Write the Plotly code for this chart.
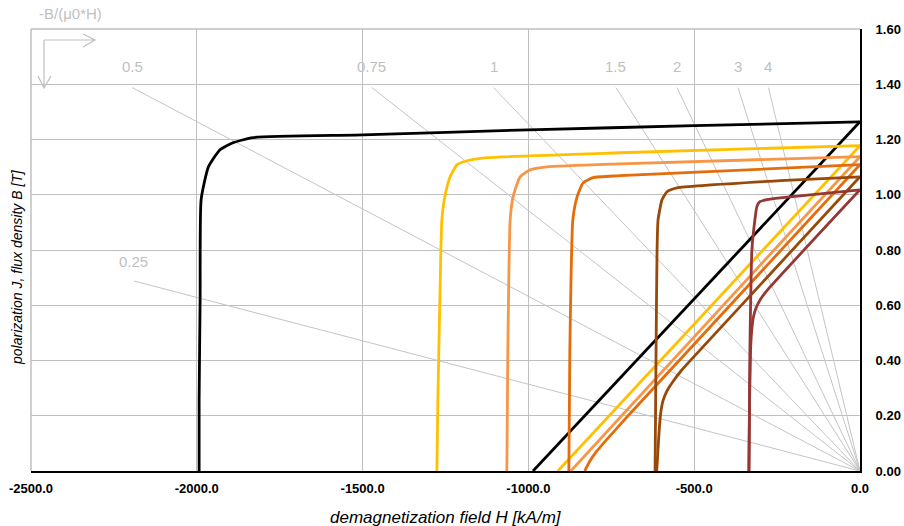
import plotly.graph_objects as go

# ---------------- data ----------------
x_ticks = [-2500, -2000, -1500, -1000, -500, 0]
x_tick_labels = ["-2500.0", "-2000.0", "-1500.0", "-1000.0", "-500.0", "0.0"]
y_ticks = [0, 0.2, 0.4, 0.6, 0.8, 1.0, 1.2, 1.4, 1.6]
y_tick_labels = ["0.00", "0.20", "0.40", "0.60", "0.80", "1.00", "1.20", "1.40", "1.60"]

# load lines -B/(mu0*H): start points (end point is the origin)
load_labels = ["0.25", "0.5", "0.75", "1", "1.5", "2", "3", "4"]
load_start_H = [-2190, -2195, -1472, -1105, -736, -552, -368, -276]
load_start_B = [0.688, 1.388, 1.388, 1.388, 1.388, 1.388, 1.388, 1.388]
load_label_B = [0.757, 1.464, 1.464, 1.464, 1.464, 1.464, 1.464, 1.464]

# J curves (polarization) and B curves (flux density), H in kA/m
black_J_H = [0, -500, -1000, -1500, -1830, -1891, -1930, -1965, -1987, -1990, -1993, -1993]
black_J = [1.264, 1.250, 1.235, 1.217, 1.207, 1.188, 1.163, 1.101, 0.982, 0.62, 0.257, 0]
black_B_H = [0, -986]
black_B = [1.264, 0]

yellow_J_H = [0, -724, -1125, -1185, -1215, -1236, -1252, -1261, -1267, -1273, -1276]
yellow_J = [1.178, 1.152, 1.134, 1.123, 1.109, 1.065, 0.993, 0.909, 0.62, 0.257, 0]
yellow_B_H = [0, -911]
yellow_B = [1.178, 0]

lorange_J_H = [0, -724, -944, -995, -1025, -1046, -1055, -1062, -1065]
lorange_J = [1.138, 1.112, 1.101, 1.090, 1.065, 0.993, 0.909, 0.438, 0]
lorange_B_H = [0, -872]
lorange_B = [1.138, 0]

orange_J_H = [0, -724, -805, -835, -853, -866, -875, -878]
orange_J = [1.109, 1.069, 1.062, 1.043, 0.993, 0.909, 0.438, 0]
orange_B_H = [0, -700, -760, -795, -815, -830]
orange_B = [1.109, 0.199, 0.119, 0.070, 0.035, 0]

brown_J_H = [0, -241, -552, -582, -597, -609, -612, -615, -618]
brown_J = [1.065, 1.051, 1.025, 1.011, 0.982, 0.909, 0.801, 0.438, 0]
brown_B_H = [0, -500, -540, -565, -582, -594, -601, -606, -610, -613]
brown_B = [1.065, 0.415, 0.362, 0.322, 0.290, 0.255, 0.210, 0.140, 0.060, 0]

dred_J_H = [0, -241, -281, -302, -311, -317, -326, -332, -335]
dred_J = [1.018, 0.989, 0.982, 0.975, 0.957, 0.909, 0.801, 0.438, 0]
dred_B_H = [0, -280, -300, -313, -321, -326, -330, -333, -335]
dred_B = [1.018, 0.654, 0.622, 0.592, 0.560, 0.515, 0.440, 0.250, 0]

# ---------------- styles ----------------
GRID = "#bfbfbf"
LOAD = "#c4c4c4"
FONT = "Liberation Sans"

fig = go.Figure()

for h, b in zip(load_start_H, load_start_B):
    fig.add_trace(go.Scatter(x=[0, h], y=[0, b], mode="lines",
                             line=dict(color=LOAD, width=1), hoverinfo="skip",
                             showlegend=False))

series = [
    (black_J_H, black_J, "#000000", "spline"),
    (black_B_H, black_B, "#000000", "linear"),
    (yellow_J_H, yellow_J, "#FFC000", "spline"),
    (yellow_B_H, yellow_B, "#FFC000", "linear"),
    (lorange_J_H, lorange_J, "#F79646", "spline"),
    (lorange_B_H, lorange_B, "#F79646", "linear"),
    (orange_J_H, orange_J, "#E46C0A", "spline"),
    (orange_B_H, orange_B, "#E46C0A", "spline"),
    (brown_J_H, brown_J, "#984807", "spline"),
    (brown_B_H, brown_B, "#984807", "spline"),
    (dred_J_H, dred_J, "#953735", "spline"),
    (dred_B_H, dred_B, "#953735", "spline"),
]
for hx, yy, col, shp in series:
    ln = dict(color=col, width=2.8, shape=shp)
    if shp == "spline":
        ln["smoothing"] = 0.5
    fig.add_trace(go.Scatter(x=hx, y=yy, mode="lines", line=ln, showlegend=False))

annotations = []
for lab, h, lb in zip(load_labels, load_start_H, load_label_B):
    annotations.append(dict(x=h, y=lb, xref="x", yref="y", text=lab, showarrow=False,
                            xanchor="center", yanchor="middle",
                            font=dict(family=FONT, size=15, color=GRID)))


def px(xp):
    return (xp - 31) / 829


def py(yp):
    return (471 - yp) / 442


annotations.append(dict(x=px(70), y=py(14), xref="paper", yref="paper",
                        text="-B/(μ0*H)", showarrow=False, xanchor="center", yanchor="middle",
                        font=dict(family=FONT, size=15, color=GRID)))
annotations.append(dict(x=px(17), y=py(267), xref="paper", yref="paper",
                        text="polarization J, flux density B [T]", textangle=-90,
                        showarrow=False, xanchor="center", yanchor="middle",
                        font=dict(family=FONT, size=14, color="#000000", style="italic")))
annotations.append(dict(x=px(446), y=py(517), xref="paper", yref="paper",
                        text="demagnetization field H [kA/m]", showarrow=False,
                        xanchor="center", yanchor="middle",
                        font=dict(family=FONT, size=17, color="#000000", style="italic")))

shapes = [
    # gray frame left and top
    dict(type="line", xref="paper", yref="paper", x0=0, x1=0, y0=0, y1=1,
         line=dict(color=GRID, width=1.5), layer="below"),
    dict(type="line", xref="paper", yref="paper", x0=0, x1=1, y0=1, y1=1,
         line=dict(color=GRID, width=1.5), layer="below"),
    # direction arrows
    dict(type="path", xref="paper", yref="paper",
         path=f"M {px(44)} {py(40)} L {px(95)} {py(40)} M {px(83)} {py(34)} L {px(95)} {py(40)} L {px(83)} {py(47)}",
         line=dict(color=GRID, width=1.2)),
    dict(type="path", xref="paper", yref="paper",
         path=f"M {px(44)} {py(40)} L {px(44)} {py(88)} M {px(38)} {py(76)} L {px(44)} {py(88)} L {px(51)} {py(76)}",
         line=dict(color=GRID, width=1.2)),
]

fig.update_layout(
    width=904, height=526,
    margin=dict(l=31, r=44, t=29, b=55, autoexpand=False),
    plot_bgcolor="white", paper_bgcolor="white",
    showlegend=False,
    annotations=annotations,
    shapes=shapes,
    xaxis=dict(range=[-2500, 0], tickvals=x_ticks, ticktext=x_tick_labels, automargin=False,
               showgrid=True, gridcolor=GRID, gridwidth=1.3, zeroline=False,
               showline=True, linecolor="#000000", linewidth=2,
               ticks="", ticklabelstandoff=4,
               tickfont=dict(family=FONT, size=13, color="#000000", weight="bold")),
    yaxis=dict(range=[0, 1.6], tickvals=y_ticks, ticktext=y_tick_labels, side="right",
               automargin=False,
               showgrid=True, gridcolor=GRID, gridwidth=1.3, zeroline=False,
               showline=True, linecolor="#000000", linewidth=2,
               ticks="", ticklabelstandoff=11,
               tickfont=dict(family=FONT, size=13, color="#000000", weight="bold")),
)

fig.write_html("out.html")
